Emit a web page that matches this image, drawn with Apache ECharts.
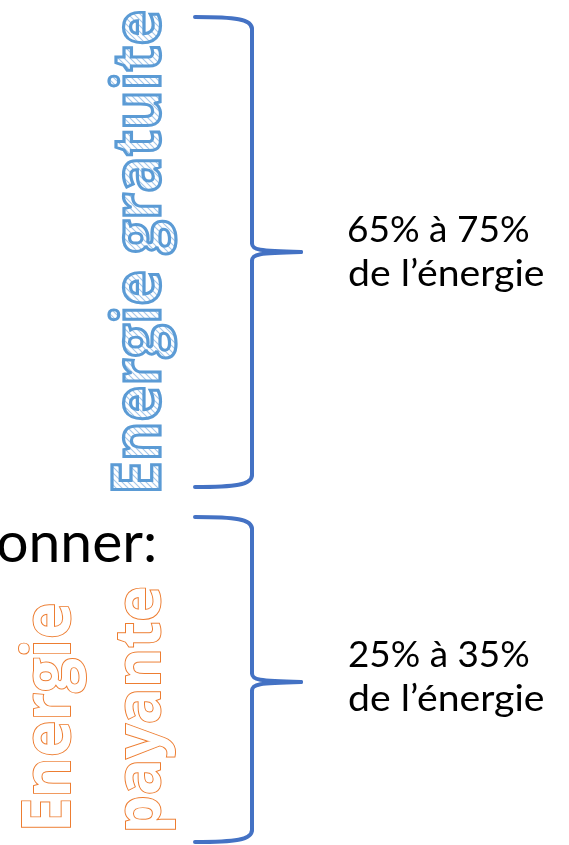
<!DOCTYPE html>
<html>
<head>
<meta charset="utf-8">
<script src="https://cdn.jsdelivr.net/npm/echarts@6/dist/echarts.min.js"></script>
<style>
html,body{margin:0;padding:0;background:#ffffff;}
#c{width:569px;height:845px;}
</style>
</head>
<body>
<div id="c"></div>
<script>
// ---- content ----
const verticalLabels = ['Energie gratuite', 'Energie', 'payante'];
const shareRanges = [[65, 75], [25, 35]];
const shareSuffix = 'de l\u2019\u00e9nergie';
const headerFragment = 'onner:';

// ---- helpers ----
const mctx = document.createElement('canvas').getContext('2d');
function measure(text, font) {
  mctx.font = font;
  mctx.textBaseline = 'middle';
  mctx.textAlign = 'left';
  const m = mctx.measureText(text);
  const mx = mctx.measureText('x');
  return { a: -m.actualBoundingBoxLeft, b: m.actualBoundingBoxRight, d: mx.actualBoundingBoxDescent };
}

// hatch tile: white with light blue diagonal lines
const pc = document.createElement('canvas');
pc.width = 6; pc.height = 6;
const p = pc.getContext('2d');
p.fillStyle = '#ffffff';
p.fillRect(0, 0, 6, 6);
p.strokeStyle = '#A4C6E8';
p.lineWidth = 1.1;
p.beginPath();
p.moveTo(-1, -1); p.lineTo(7, 7);
p.moveTo(5, -1); p.lineTo(7, 1);
p.moveTo(-1, 5); p.lineTo(1, 7);
p.stroke();

// vertical (rotated) label, fitted between y0 (start, bottom) and y1 (end, top)
function verticalText(text, font, baseX, y0, y1, stroke, lw, fill, z) {
  const m = measure(text, font);
  const iy0 = y0 - lw / 2, iy1 = y1 + lw / 2;
  const s = (iy0 - iy1) / (m.b - m.a);
  return {
    type: 'text',
    x: baseX - lw / 2 - m.d,
    y: iy0 + s * m.a,
    rotation: Math.PI / 2,
    scaleX: s,
    scaleY: 1,
    z: z,
    style: {
      text: text, x: 0, y: 0, font: font,
      fill: fill, stroke: stroke || 'none', lineWidth: stroke ? lw : 0,
      align: 'left', verticalAlign: 'middle',
      textAlign: 'left', textVerticalAlign: 'middle'
    }
  };
}

function plainText(text, font, inkX, baseY, targetWidth, color, rightAlign) {
  const m = measure(text, font);
  const w = m.b - m.a;
  const s = targetWidth ? targetWidth / w : 1;
  const x = rightAlign ? inkX - s * m.b : inkX - s * m.a;
  return {
    type: 'text',
    x: x, y: baseY - m.d,
    scaleX: s, scaleY: 1,
    z: 10,
    style: {
      text: text, x: 0, y: 0, font: font, fill: color,
      align: 'left', verticalAlign: 'middle',
      textAlign: 'left', textVerticalAlign: 'middle'
    }
  };
}

function brace(b) {
  const st = { stroke: '#4472C4', lineWidth: 4, fill: 'none', lineCap: 'round' };
  return [
    { type: 'bezierCurve', shape: { x1: b.xEnd, y1: b.yTop, cpx1: b.xSpine - 17, cpy1: b.yTop, cpx2: b.xSpine, cpy2: b.yTop + 2, x2: b.xSpine, y2: b.yTop + 12 }, style: st },
    { type: 'line', shape: { x1: b.xSpine, y1: b.yTop + 12, x2: b.xSpine, y2: b.yTip - 9 }, style: st },
    { type: 'bezierCurve', shape: { x1: b.xSpine, y1: b.yTip - 9, cpx1: b.xSpine, cpy1: b.yTip - 2, cpx2: b.xSpine + 6, cpy2: b.yTip - 1, x2: b.xTip, y2: b.yTip }, style: st },
    { type: 'bezierCurve', shape: { x1: b.xTip, y1: b.yTip, cpx1: b.xSpine + 6, cpy1: b.yTip + 1, cpx2: b.xSpine, cpy2: b.yTip + 2, x2: b.xSpine, y2: b.yTip + 9 }, style: st },
    { type: 'line', shape: { x1: b.xSpine, y1: b.yTip + 9, x2: b.xSpine, y2: b.yBot - 12 }, style: st },
    { type: 'bezierCurve', shape: { x1: b.xSpine, y1: b.yBot - 12, cpx1: b.xSpine, cpy1: b.yBot - 2, cpx2: b.xSpine - 17, cpy2: b.yBot, x2: b.xEnd, y2: b.yBot }, style: st }
  ];
}

const boldFont = 'bold 66px "Open Sans"';
const elements = [];

// blue hatched label: black fill, hatch layer with 'lighten' blend, then outline
const blueArgs = [verticalLabels[0], boldFont, 162, 492, 10];
elements.push(verticalText(...blueArgs, null, 3.2, '#000000', 10));
elements.push({
  type: 'rect', z: 11,
  shape: { x: 98, y: 0, width: 80, height: 505 },
  style: { fill: { image: pc, repeat: 'repeat' }, blend: 'lighten' }
});
elements.push(verticalText(...blueArgs, '#5B9BD5', 3.2, 'none', 12));

elements.push(verticalText(verticalLabels[1], boldFont, 70.5, 828.5, 603.5, '#ED7D31', 2, '#ffffff', 12));
elements.push(verticalText(verticalLabels[2], 'bold 62px "Open Sans"', 160.5, 830.5, 587.5, '#ED7D31', 2, '#ffffff', 12));

elements.push(plainText(headerFragment, '57px Lato', 154, 562, null, '#000000', true));

const rangeText = shareRanges.map(r => r[0] + '% \u00e0 ' + r[1] + '%');
elements.push(plainText(rangeText[0], '37px Lato', 349, 242, 180, '#000000', false));
elements.push(plainText(shareSuffix, '37px Lato', 349, 286, 195, '#000000', false));
elements.push(plainText(rangeText[1], '37px Lato', 349, 667, 180, '#000000', false));
elements.push(plainText(shareSuffix, '37px Lato', 349, 711, 195, '#000000', false));

brace({ xEnd: 195, xSpine: 252, xTip: 301, yTop: 17, yTip: 252, yBot: 487 }).forEach(e => elements.push(e));
brace({ xEnd: 195, xSpine: 252, xTip: 301, yTop: 517, yTip: 682, yBot: 842 }).forEach(e => elements.push(e));

const chart = echarts.init(document.getElementById('c'), null, { renderer: 'canvas' });
chart.setOption({
  backgroundColor: '#ffffff',
  animation: false,
  graphic: { elements: elements }
});
</script>
</body>
</html>
